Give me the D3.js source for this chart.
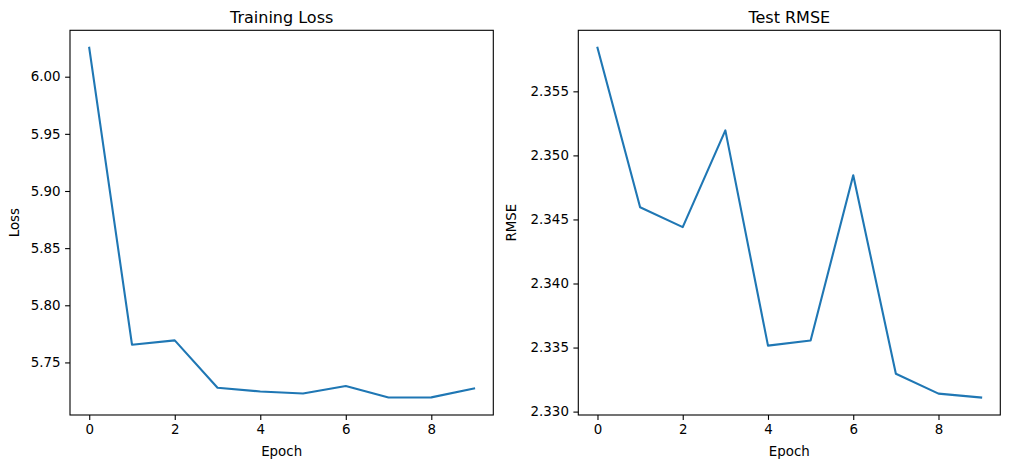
<!DOCTYPE html>
<html>
<head>
<meta charset="utf-8">
<script src="https://cdn.jsdelivr.net/npm/d3@7"></script>
<style>
  body { margin: 0; background: #fff; }
  svg { display: block; }
  text { font-family: "DejaVu Sans", sans-serif; fill: #000; }
</style>
</head>
<body>
<svg id="chart" width="1010" height="468"></svg>
<script>
const epochs = [0, 1, 2, 3, 4, 5, 6, 7, 8, 9];
const trainLoss = [6.0253, 5.7655, 5.7693, 5.7278, 5.7246, 5.7228, 5.7294, 5.7193, 5.7194, 5.7272];
const testRmse = [2.35840, 2.34595, 2.34440, 2.35195, 2.33515, 2.33555, 2.34845, 2.33295, 2.33140, 2.33110];
const xTicks = [0, 2, 4, 6, 8];
const lossTicks = [5.75, 5.80, 5.85, 5.90, 5.95, 6.00];
const rmseTicks = [2.330, 2.335, 2.340, 2.345, 2.350, 2.355];
const titles = ["Training Loss", "Test RMSE"];
const yLabels = ["Loss", "RMSE"];

(function () {
const svg = d3.select("#chart");
const plotTop = 30.3, plotBottom = 415;
const panels = [
  { left: 70, right: 493.3, data: trainLoss, ticks: lossTicks, fmt: d3.format(".2f"), labelX: 19, title: titles[0], ylab: yLabels[0] },
  { left: 578.3, right: 1000.3, data: testRmse, ticks: rmseTicks, fmt: d3.format(".3f"), labelX: 515.5, title: titles[1], ylab: yLabels[1] }
];

panels.forEach(p => {
  const xExt = d3.extent(epochs), xPad = (xExt[1] - xExt[0]) * 0.05;
  const x = d3.scaleLinear().domain([xExt[0] - xPad, xExt[1] + xPad]).range([p.left, p.right]);
  const yExt = d3.extent(p.data), yPad = (yExt[1] - yExt[0]) * 0.05;
  const y = d3.scaleLinear().domain([yExt[0] - yPad, yExt[1] + yPad]).range([plotBottom, plotTop]);

  const g = svg.append("g");

  const xAxis = g.append("g").attr("transform", `translate(0,${plotBottom})`)
    .call(d3.axisBottom(x).tickValues(xTicks).tickFormat(d3.format("d")).tickSizeOuter(0).tickSize(4.9).tickPadding(4.5));
  const yAxis = g.append("g").attr("transform", `translate(${p.left},0)`)
    .call(d3.axisLeft(y).tickValues(p.ticks).tickFormat(p.fmt).tickSizeOuter(0).tickSize(4.9).tickPadding(4.5));
  [xAxis, yAxis].forEach(a => {
    a.select(".domain").remove();
    a.selectAll(".tick line").attr("stroke", "#000").attr("stroke-width", 1.1);
    a.selectAll(".tick text").attr("font-size", 13.4).attr("font-family", "DejaVu Sans").attr("fill", "#000");
  });

  const line = d3.line().x((d, i) => x(epochs[i])).y(d => y(d));
  g.append("path").datum(p.data)
    .attr("d", line)
    .attr("fill", "none")
    .attr("stroke", "#1f77b4")
    .attr("stroke-width", 2.1)
    .attr("stroke-linejoin", "round")
    .attr("stroke-linecap", "square");

  g.append("rect")
    .attr("x", p.left).attr("y", plotTop)
    .attr("width", p.right - p.left).attr("height", plotBottom - plotTop)
    .attr("fill", "none").attr("stroke", "#000").attr("stroke-width", 1.1);

  g.append("text")
    .attr("x", (p.left + p.right) / 2).attr("y", 23)
    .attr("text-anchor", "middle").attr("font-size", 16)
    .text(p.title);

  g.append("text")
    .attr("x", (p.left + p.right) / 2).attr("y", 456)
    .attr("text-anchor", "middle").attr("font-size", 13.4)
    .text("Epoch");

  g.append("text")
    .attr("transform", `translate(${p.labelX},${(plotTop + plotBottom) / 2}) rotate(-90)`)
    .attr("text-anchor", "middle").attr("font-size", 13.4)
    .text(p.ylab);
});
})();
</script>
</body>
</html>
